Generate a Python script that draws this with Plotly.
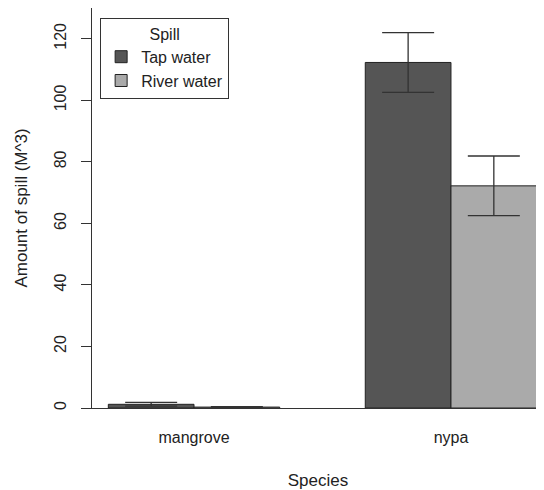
import plotly.graph_objects as go

species = ["mangrove", "nypa"]
tap_water = [1.2, 112.3]
tap_err = [0.6, 9.7]
river_water = [0.3, 72.2]
river_err = [0.1, 9.7]
y_ticks = [0, 20, 40, 60, 80, 100, 120]

font = "Liberation Sans, Arial, sans-serif"
txt = "#222222"

fig = go.Figure()
fig.add_trace(go.Bar(
    x=species, y=tap_water, name="Tap water",
    marker=dict(color="#555555", line=dict(color="#222222", width=1)),
    error_y=dict(type="data", array=tap_err, color="#333333", thickness=1.3, width=26),
))
fig.add_trace(go.Bar(
    x=species, y=river_water, name="River water",
    marker=dict(color="#aaaaaa", line=dict(color="#222222", width=1)),
    error_y=dict(type="data", array=river_err, color="#333333", thickness=1.3, width=26),
))

# The page body has an 8px default margin, so the figure is sized to fit.
fig.update_layout(
    width=536, height=482,
    margin=dict(l=84, r=0, t=0, b=82),
    barmode="group", bargap=0.333, bargroupgap=0,
    plot_bgcolor="white", paper_bgcolor="white",
    font=dict(family=font, size=16, color=txt),
    showlegend=True,
    legend=dict(
        x=0.018, y=0.975, xanchor="left", yanchor="top",
        bordercolor="#333333", borderwidth=1, bgcolor="white",
        font=dict(size=16, color=txt),
        title=dict(text="Spill", side="top center", font=dict(size=16, color=txt)),
        traceorder="normal", tracegroupgap=0,
    ),
)
fig.update_xaxes(
    range=[-0.397, 1.362], showline=True, linecolor="#333333", linewidth=1,
    mirror=True, ticks="", showgrid=False, zeroline=False,
    ticklabelstandoff=15, automargin=False,
    title=dict(text="Species", standoff=29, font=dict(size=17)),
    tickfont=dict(size=16),
)
fig.update_yaxes(
    range=[0, 130], tickvals=y_ticks, ticktext=[str(v) for v in y_ticks],
    showline=True, linecolor="#333333", linewidth=1, mirror=False,
    ticks="outside", ticklen=10, tickcolor="#333333",
    tickangle=-90, showgrid=False, zeroline=False,
    ticklabelstandoff=9, automargin=False,
    title=dict(text="Amount of spill (M^3)", standoff=19, font=dict(size=17)),
    tickfont=dict(size=16),
)

fig.write_html("out.html")
